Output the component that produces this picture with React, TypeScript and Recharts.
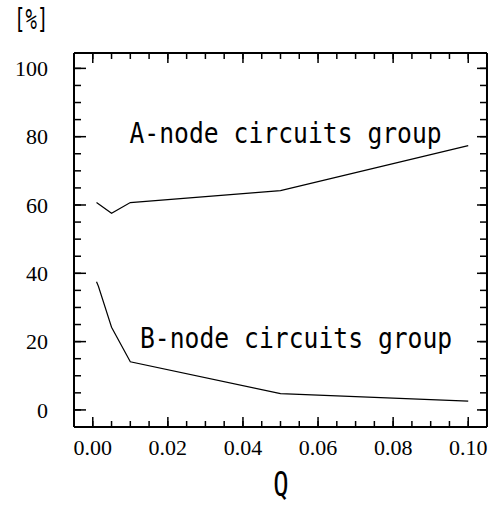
import { Line, LineChart, XAxis, YAxis } from "recharts"

// percentage of circuits per group vs Q
const aQ = [0.001, 0.005, 0.01, 0.05, 0.1]
const aPct = [60.7, 57.6, 60.7, 64.2, 77.4]
const bQ = [0.001, 0.0015, 0.005, 0.01, 0.05, 0.1]
const bPct = [37.5, 36.2, 24.2, 14.1, 4.8, 2.6]

const xMajor = [0, 0.02, 0.04, 0.06, 0.08, 0.1]
const xMinor = [0, 0.005, 0.01, 0.015, 0.02, 0.025, 0.03, 0.035, 0.04, 0.045, 0.05,
  0.055, 0.06, 0.065, 0.07, 0.075, 0.08, 0.085, 0.09, 0.095, 0.1]
const yMajor = [0, 20, 40, 60, 80, 100]
const yMinor = [0, 5, 10, 15, 20, 25, 30, 35, 40, 45, 50, 55, 60, 65, 70, 75, 80, 85, 90, 95, 100]

const xDomain: [number, number] = [-0.005, 0.105]
const yDomain: [number, number] = [-5, 104.5]

const aData = aQ.map((q, i) => ({ q, pct: aPct[i] }))
const bData = bQ.map((q, i) => ({ q, pct: bPct[i] }))

const W = 492
const H = 506
const mono = "'DejaVu Sans Mono', monospace"
const serif = "'Liberation Serif', 'Times New Roman', serif"
const tickStroke = { stroke: "#000", strokeWidth: 1.5 }
const boxLine = { stroke: "#000", strokeWidth: 2 }
const thin = 0.01 // mirrored axes take no room, but must not be 0 or they are skipped

const EmptyTick = () => <g />

// shared props for the tick-only axes
const tickOnly = {
  type: "number" as const,
  interval: 0,
  mirror: true,
  allowDataOverflow: true,
  tickLine: tickStroke,
  stroke: "#000",
  tick: EmptyTick,
}

export default function App() {
  return (
    <div
      style={{
        position: "fixed",
        left: 0,
        top: 0,
        width: W,
        height: H,
        background: "#fff",
      }}
    >
      <LineChart
        width={W}
        height={H}
        margin={{ top: 53, right: 5, bottom: 0, left: 0 }}
      >
        <XAxis
          xAxisId="x"
          type="number"
          dataKey="q"
          domain={xDomain}
          allowDataOverflow
          ticks={xMajor}
          interval={0}
          height={79}
          tickLine={false}
          tickSize={6}
          tickMargin={6}
          axisLine={boxLine}
          tickFormatter={(v: number) => v.toFixed(2)}
          tick={{ fontSize: 22, fontFamily: serif, fill: "#000" }}
        />
        <YAxis
          yAxisId="y"
          type="number"
          domain={yDomain}
          allowDataOverflow
          ticks={yMajor}
          interval={0}
          width={74}
          tickLine={false}
          tickSize={6}
          tickMargin={20}
          axisLine={boxLine}
          tick={{ fontSize: 22, fontFamily: serif, fill: "#000" }}
        />

        {/* inward ticks on all four sides */}
        <XAxis {...tickOnly} xAxisId="xMinB" dataKey="q" domain={xDomain} ticks={xMinor}
          height={thin} tickSize={6} axisLine={false} />
        <XAxis {...tickOnly} xAxisId="xMajB" dataKey="q" domain={xDomain} ticks={xMajor}
          height={thin} tickSize={10} axisLine={false} />
        <XAxis {...tickOnly} xAxisId="xMinT" orientation="top" dataKey="q" domain={xDomain} ticks={xMinor}
          height={thin} tickSize={6} axisLine={boxLine} />
        <XAxis {...tickOnly} xAxisId="xMajT" orientation="top" dataKey="q" domain={xDomain} ticks={xMajor}
          height={thin} tickSize={10} axisLine={false} />
        <YAxis {...tickOnly} yAxisId="yMinL" domain={yDomain} ticks={yMinor}
          width={thin} tickSize={7} axisLine={false} />
        <YAxis {...tickOnly} yAxisId="yMajL" domain={yDomain} ticks={yMajor}
          width={thin} tickSize={12} axisLine={false} />
        <YAxis {...tickOnly} yAxisId="yMinR" orientation="right" domain={yDomain} ticks={yMinor}
          width={thin} tickSize={7} axisLine={boxLine} />
        <YAxis {...tickOnly} yAxisId="yMajR" orientation="right" domain={yDomain} ticks={yMajor}
          width={thin} tickSize={10} axisLine={false} />

        <Line
          xAxisId="x"
          yAxisId="y"
          data={aData}
          dataKey="pct"
          stroke="#000"
          strokeWidth={1.2}
          dot={false}
          isAnimationActive={false}
        />
        <Line
          xAxisId="x"
          yAxisId="y"
          data={bData}
          dataKey="pct"
          stroke="#000"
          strokeWidth={1.2}
          dot={false}
          isAnimationActive={false}
        />
      </LineChart>

      <svg
        width={W}
        height={H}
        style={{ position: "absolute", left: 0, top: 0, pointerEvents: "none" }}
      >
        <text transform="translate(14,29) scale(1,1.5)" fontFamily={mono} fontSize={19} fill="#000">
          [%]
        </text>
        <text transform="translate(129.5,143) scale(1,1.12)" fontFamily={mono} fontSize={24.7} fill="#000">
          A-node circuits group
        </text>
        <text transform="translate(140,348) scale(1,1.12)" fontFamily={mono} fontSize={24.7} fill="#000">
          B-node circuits group
        </text>
        <text transform="translate(281,496) scale(0.85,1.1)" textAnchor="middle" fontFamily={mono} fontSize={30} fill="#000">
          Q
        </text>
      </svg>
    </div>
  )
}
